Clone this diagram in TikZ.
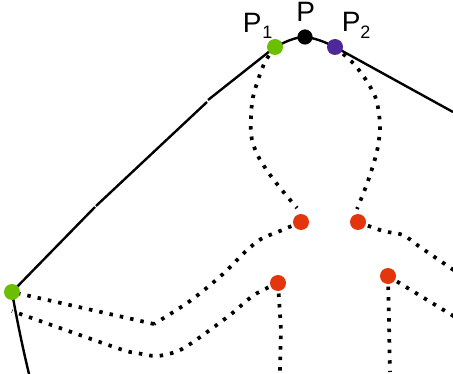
\documentclass[tikz,border=0pt]{standalone}
\usepackage{fontspec}
\setmainfont{Liberation Sans}
\tikzset{
  pt/.style={circle,inner sep=0pt,minimum size=12pt,fill=#1},
  solidline/.style={line width=1.8pt,black},
  dotline/.style={line width=2.8pt,black,dash pattern=on 2.6pt off 5.3pt},
  lab/.style={inner sep=0pt,anchor=base west,font=\fontsize{21}{22}\selectfont},
  sub/.style={inner sep=0pt,anchor=base west,font=\fontsize{13.5}{14}\selectfont}
}
\definecolor{grn}{RGB}{108,190,0}
\definecolor{vio}{RGB}{76,40,152}
\definecolor{rd}{RGB}{228,54,14}
\begin{document}
\begin{tikzpicture}[x=0.75pt,y=-0.75pt]
\useasboundingbox (0,0) rectangle (453,374);
\clip (0,0) rectangle (453,374);
\coordinate (a) at (275,47);
\coordinate (b) at (305,37);
\coordinate (c) at (335,47);
\coordinate (g) at (12,292);
\coordinate (r1) at (301,222);
\coordinate (r2) at (358,222);
\coordinate (r3) at (278,283);
\coordinate (r4) at (388,276);
\coordinate (e1) at (453,112);
\coordinate (e2) at (29,374);
\coordinate (e3) at (455,271);
\coordinate (e4) at (455,317);
\coordinate (e5) at (280,372);
\coordinate (e6) at (390,372);
% solid outline
\draw[solidline] (e2) .. controls (22,345) and (16,315) .. (g) -- (95,207);
\draw[solidline] (96,206) -- (207,102);
\draw[solidline] (208,100) -- (a) .. controls (285,42) and (295,37) .. (b) .. controls (315,38) and (325,42) .. (c) -- (e1);
% dotted curves
\draw[dotline] plot[smooth] coordinates {(a) (265,62) (257,83) (252,103) (251,134) (257,154) (268,172) (281,189) (297,208)};
\draw[dotline] plot[smooth] coordinates {(c) (353,63) (366,80) (376,99) (380,125) (377,151) (368,181) (357,209)};
\draw[dotline] plot[smooth,tension=0.5] coordinates {(r1) (280,231) (261,239) (245,252) (223,274) (190,301) (154,324)};
\draw[dotline] (154,324) -- (g);
\draw[dotline] plot[smooth,tension=0.5] coordinates {(r3) (254,295) (230,315) (196,340) (178,351) (157,356) (137,353) (117,348) (12,311)};
\draw[dotline] (r3) -- (281,330) -- (e5);
\draw[dotline] plot[smooth,tension=0.5] coordinates {(r2) (383,231) (403,235) (420,247) (e3)};
\draw[dotline] (r4) -- (e4);
\draw[dotline] (r4) -- (e6);
% markers
\node[pt=grn] (P1) at (a) {};
\node[pt=black,minimum size=11.4pt] (P0) at (b) {};
\node[pt=vio] (P2) at (c) {};
\node[pt=grn] (G) at (g) {};
\node[pt=rd] (R1) at (r1) {};
\node[pt=rd] (R2) at (r2) {};
\node[pt=rd] (R3) at (r3) {};
\node[pt=rd] (R4) at (r4) {};
% labels
\node[lab] (t1) at (242.5,33) {P};
\node[sub] (t1s) at (262,39) {1};
\node[lab] (t0) at (296,22) {P};
\node[lab] (t2) at (341.5,32) {P};
\node[sub] (t2s) at (360,39) {2};
\end{tikzpicture}
\end{document}
